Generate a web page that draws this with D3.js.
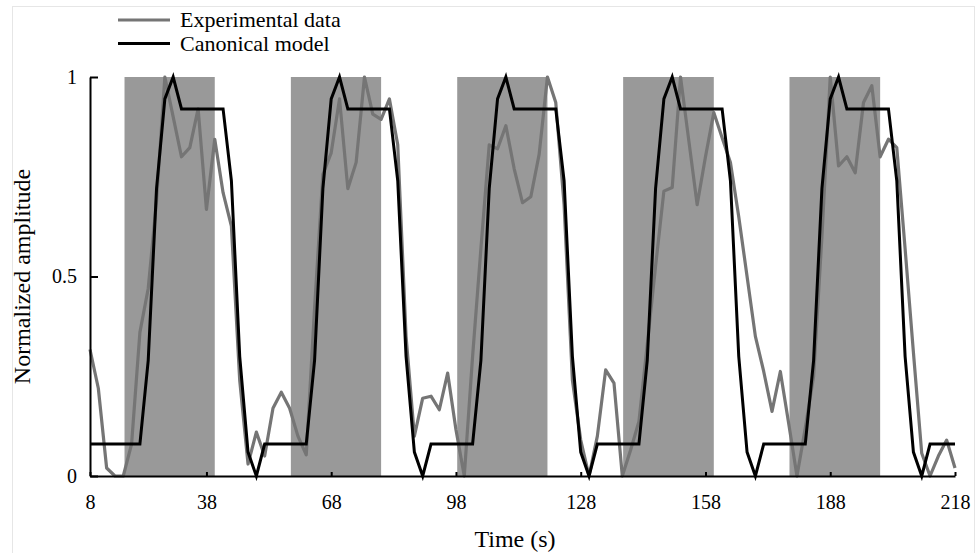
<!DOCTYPE html>
<html>
<head>
<meta charset="utf-8">
<script src="https://cdn.jsdelivr.net/npm/d3@7"></script>
<style>
    body { margin: 0; background: #ffffff; }
    svg { display: block; font-family: "Liberation Serif", "Times New Roman", serif; }
    .axis path, .axis line { stroke: #000000; stroke-width: 2; }
</style>
</head>
<body>
<div id="chart"></div>
<script>
// sample times (s), one every 2 s
const times = d3.range(10, 219, 2);

const experimental = [
    0.317, 0.22, 0.02, 0, 0, 0.08, 0.36, 0.47, 0.69, 1.0,
    0.9, 0.8, 0.823, 0.92, 0.668, 0.844, 0.71, 0.626, 0.24, 0.03,
    0.11, 0.05, 0.17, 0.21, 0.17, 0.1, 0.053, 0.42, 0.756, 0.81,
    0.945, 0.72, 0.786, 1.0, 0.907, 0.894, 0.945, 0.83, 0.35, 0.1,
    0.195, 0.2, 0.166, 0.258, 0.116, 0, 0.3, 0.57, 0.83, 0.82,
    0.878, 0.77, 0.685, 0.7, 0.806, 1.0, 0.936, 0.68, 0.24, 0.09,
    0, 0.1, 0.266, 0.233, 0, 0.065, 0.137, 0.33, 0.526, 0.714,
    0.723, 1.0, 0.84, 0.68, 0.8, 0.911, 0.848, 0.786, 0.65, 0.5,
    0.35, 0.262, 0.162, 0.262, 0.132, 0, 0.12, 0.25, 0.6, 1.0,
    0.777, 0.8, 0.76, 0.936, 0.978, 0.8, 0.844, 0.823, 0.57, 0.31,
    0.057, 0, 0.05, 0.09, 0.02
];

const canonical = [
    0.08, 0.08, 0.08, 0.08, 0.08, 0.08, 0.08,
    0.29, 0.72, 0.945, 1.0, 0.92, 0.92, 0.92, 0.92, 0.92, 0.92, 0.74, 0.3, 0.06, 0, 0.08, 0.08, 0.08, 0.08, 0.08, 0.08,
    0.29, 0.72, 0.945, 1.0, 0.92, 0.92, 0.92, 0.92, 0.92, 0.92, 0.74, 0.3, 0.06, 0, 0.08, 0.08, 0.08, 0.08, 0.08, 0.08,
    0.29, 0.72, 0.945, 1.0, 0.92, 0.92, 0.92, 0.92, 0.92, 0.92, 0.74, 0.3, 0.06, 0, 0.08, 0.08, 0.08, 0.08, 0.08, 0.08,
    0.29, 0.72, 0.945, 1.0, 0.92, 0.92, 0.92, 0.92, 0.92, 0.92, 0.74, 0.3, 0.06, 0, 0.08, 0.08, 0.08, 0.08, 0.08, 0.08,
    0.29, 0.72, 0.945, 1.0, 0.92, 0.92, 0.92, 0.92, 0.92, 0.92, 0.74, 0.3, 0.06, 0, 0.08, 0.08, 0.08, 0.08
];

// stimulation blocks [start, end] in seconds
const blockStarts = [18.3, 58.3, 98.3, 138.2, 178.2];
const blockEnds = [40, 80, 120, 160, 200];

const xTickValues = [10, 38, 68, 98, 128, 158, 188, 218];
const xTickLabels = ["8", "38", "68", "98", "128", "158", "188", "218"];
const yTickValues = [0, 0.5, 1];
const yTickLabels = ["0", "0.5", "1"];

const seriesNames = ["Experimental data", "Canonical model"];

const width = 977;
const height = 553;
const margin = { top: 77, right: 22, bottom: 77, left: 90 };
const serif = "'Liberation Serif', 'Times New Roman', serif";

const svg = d3.select("#chart")
    .append("svg")
    .attr("width", width)
    .attr("height", height);

svg.append("rect")
    .attr("x", 12.5)
    .attr("y", 6.5)
    .attr("width", 962)
    .attr("height", 560)
    .attr("fill", "none")
    .attr("stroke", "#e6e6e6");

const x = d3.scaleLinear()
    .domain([10, 218])
    .range([margin.left, width - margin.right]);

const y = d3.scaleLinear()
    .domain([0, 1])
    .range([height - margin.bottom, margin.top]);

const blocks = blockStarts.map((s, i) => ({ start: s, end: blockEnds[i] }));

svg.selectAll(".block")
    .data(blocks)
    .enter()
    .append("rect")
    .attr("class", "block")
    .attr("x", d => x(d.start))
    .attr("y", y(1))
    .attr("width", d => x(d.end) - x(d.start))
    .attr("height", y(0) - y(1))
    .attr("fill", "#999999");

const expData = times.map((t, i) => ({ t: t, v: experimental[i] }));
const modelData = times.map((t, i) => ({ t: t, v: canonical[i] }));

const line = d3.line()
    .x(d => x(d.t))
    .y(d => y(d.v));

svg.append("path")
    .datum(expData)
    .attr("fill", "none")
    .attr("stroke", "#757575")
    .attr("stroke-width", 3.2)
    .attr("stroke-linejoin", "round")
    .attr("d", line);

svg.append("path")
    .datum(modelData)
    .attr("fill", "none")
    .attr("stroke", "#000000")
    .attr("stroke-width", 3)
    .attr("d", line);

const xAxis = svg.append("g")
    .attr("class", "axis")
    .attr("transform", `translate(0,${y(0)})`)
    .call(d3.axisBottom(x)
        .tickValues(xTickValues)
        .tickFormat((d, i) => xTickLabels[i])
        .tickSize(-4)
        .tickSizeOuter(0)
        .tickPadding(19));

const yAxis = svg.append("g")
    .attr("class", "axis")
    .attr("transform", `translate(${x(10)},0)`)
    .call(d3.axisLeft(y)
        .tickValues(yTickValues)
        .tickFormat((d, i) => yTickLabels[i])
        .tickSize(-8)
        .tickSizeOuter(0)
        .tickPadding(13));

[xAxis, yAxis].forEach(g => {
    g.attr("font-family", serif).attr("font-size", 20);
    g.selectAll("text").attr("fill", "#000000");
});

svg.append("text")
    .attr("x", 515)
    .attr("y", 547)
    .attr("text-anchor", "middle")
    .attr("font-size", 24)
    .text("Time (s)");

svg.append("text")
    .attr("transform", `translate(30,${(y(0) + y(1)) / 2}) rotate(-90)`)
    .attr("text-anchor", "middle")
    .attr("font-size", 24)
    .text("Normalized amplitude");

const legend = svg.append("g")
    .attr("transform", "translate(118,20)");

const legendRow = legend.selectAll(".legend-row")
    .data(seriesNames)
    .enter()
    .append("g")
    .attr("transform", (_, i) => `translate(0,${i * 23.5})`);

legendRow.append("line")
    .attr("x1", 0)
    .attr("x2", 52)
    .attr("stroke", (_, i) => (i === 0 ? "#757575" : "#000000"))
    .attr("stroke-width", 3);

legendRow.append("text")
    .attr("x", 62)
    .attr("y", 7)
    .attr("font-size", 22)
    .text(d => d);
</script>
</body>
</html>
